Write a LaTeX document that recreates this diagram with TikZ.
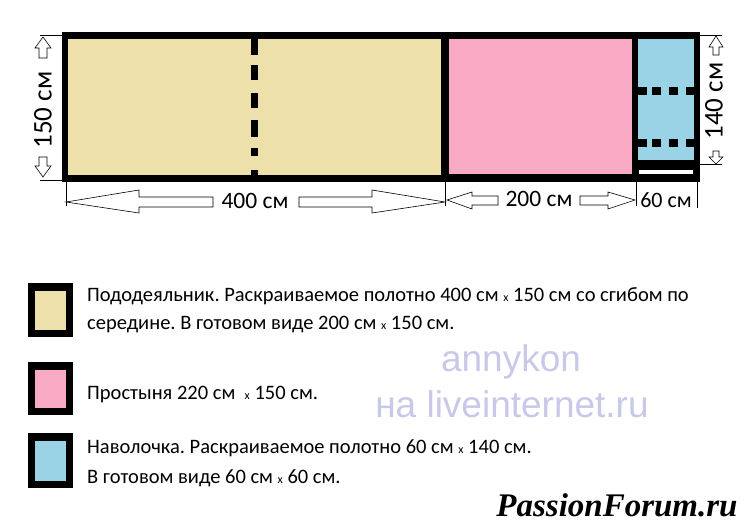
\documentclass[tikz,border=0pt]{standalone}
\usepackage{fontspec}
\setmainfont{Carlito}
\newfontfamily\wmfont{Liberation Sans}
\newfontfamily\pffont{Liberation Serif}
\definecolor{beige}{RGB}{238,224,170}
\definecolor{pinkc}{RGB}{249,171,198}
\definecolor{bluec}{RGB}{154,211,230}
\definecolor{wmc}{RGB}{200,200,232}
\tikzset{
  hollow/.style={draw=black,fill=white,line width=0.6pt,line join=miter},
  tick/.style={draw=black,line width=0.6pt},
  dimlabel/.style={inner sep=0pt,font=\fontsize{23.5}{23.5}\selectfont},
  vlabel/.style={inner sep=0pt,font=\fontsize{27}{27}\selectfont,rotate=90},
  legtext/.style={inner sep=0pt,anchor=west,font=\fontsize{20.5}{20.5}\selectfont},
  legbox/.style={fill=black},
}
\newcommand{\sx}{{\fontsize{12}{12}\selectfont x}}
\frenchspacing
\begin{document}
\begin{tikzpicture}[x=1pt,y=-1pt]
\useasboundingbox (0,0) rectangle (744,528);
\fill[white] (0,0) rectangle (744,528);
% main frame
\fill[black] (62,32) rectangle (700,182);
\fill[beige] (68,39) rectangle (441,175);
\fill[pinkc] (449,39) rectangle (632,174);
\fill[bluec] (638,39) rectangle (694,160);
\fill[white] (639,170) rectangle (693,174);
% fold line in beige
\foreach \a/\b in {39/55,65/80,93/108,120/137,148/156,170/175}
  \fill[black] (251,\a) rectangle (258,\b);
% pillowcase fold lines
\foreach \y in {87,139}{
  \foreach \a/\b in {638/647,652/661,669/678,686/694}
    \fill[black] (\a,\y) rectangle (\b,\y+8);
}
% left dimension
\draw[tick] (40,35) -- (62,35);
\draw[tick] (40,180) -- (62,180);
\draw[hollow] (43,37) -- (51,48) -- (47,48) -- (47,58) -- (39,58) -- (39,48) -- (35,48) -- cycle;
\draw[hollow] (43,177) -- (51,166) -- (47,166) -- (47,157) -- (39,157) -- (39,166) -- (35,166) -- cycle;
\node[vlabel] (h150) at (43,110) {150 см};
% right dimension
\draw[tick] (700,35) -- (722,35);
\draw[tick] (700,164) -- (722,164);
\draw[hollow] (716,36) -- (723,47) -- (719,47) -- (719,55) -- (713,55) -- (713,47) -- (709,47) -- cycle;
\draw[hollow] (716,164) -- (723,157) -- (719,157) -- (719,151) -- (713,151) -- (713,157) -- (709,157) -- cycle;
\node[vlabel] (h140) at (714,101) {140 см};
% bottom ticks
\draw[tick] (66,182) -- (66,206);
\draw[tick] (445,182) -- (445,206);
\draw[tick] (636,182) -- (636,206);
\draw[tick] (697,182) -- (697,208);
% 400 arrows
\draw[hollow] (66,202) -- (139,190) -- (139,197) -- (213,197) -- (213,207) -- (139,207) -- (139,213) -- cycle;
\draw[hollow] (445,202) -- (372,190) -- (372,197) -- (299,197) -- (299,207) -- (372,207) -- (372,213) -- cycle;
\node[dimlabel] (w400) at (255,201) {400 см};
% 200 arrows
\draw[hollow] (447,200) -- (472,192) -- (472,196) -- (498,196) -- (498,205) -- (472,205) -- (472,209) -- cycle;
\draw[hollow] (635,200) -- (608,192) -- (608,196) -- (580,196) -- (580,205) -- (608,205) -- (608,209) -- cycle;
\node[dimlabel] (w200) at (539,199) {200 см};
\node[dimlabel,font=\fontsize{22}{22}\selectfont] (w60) at (666,200) {60 см};
% legend boxes
\fill[legbox] (28,283) rectangle (73,337);
\fill[beige] (35,291) rectangle (66,330);
\fill[legbox] (28,362) rectangle (73,415);
\fill[pinkc] (35,370) rectangle (66,408);
\fill[legbox] (28,433) rectangle (73,488);
\fill[bluec] (35,441) rectangle (66,481);
% legend text
\node[legtext] (t1) at (87,296) {Пододеяльник. Раскраиваемое полотно 400 см \sx{} 150 см со сгибом по};
\node[legtext] (t2) at (87,325) {середине. В готовом виде 200 см \sx{} 150 см.};
\node[legtext] (t3) at (87,394) {Простыня 220 см \ \sx{} 150 см.};
\node[legtext] (t4) at (87,448) {Наволочка. Раскраиваемое полотно 60 см \sx{} 140 см.};
\node[legtext] (t5) at (87,478) {В готовом виде 60 см \sx{} 60 см.};
% watermarks
\node[inner sep=0pt,text=wmc,font=\wmfont\fontsize{37}{37}\selectfont] (wm1) at (511,362) {annykon};
\node[inner sep=0pt,text=wmc,font=\wmfont\fontsize{37}{37}\selectfont] (wm2) at (512,404) {на liveinternet.ru};
\node[inner sep=0pt,font=\pffont\bfseries\itshape\fontsize{33}{33}\selectfont] (pf) at (617,505) {PassionForum.ru};
\end{tikzpicture}
\end{document}
